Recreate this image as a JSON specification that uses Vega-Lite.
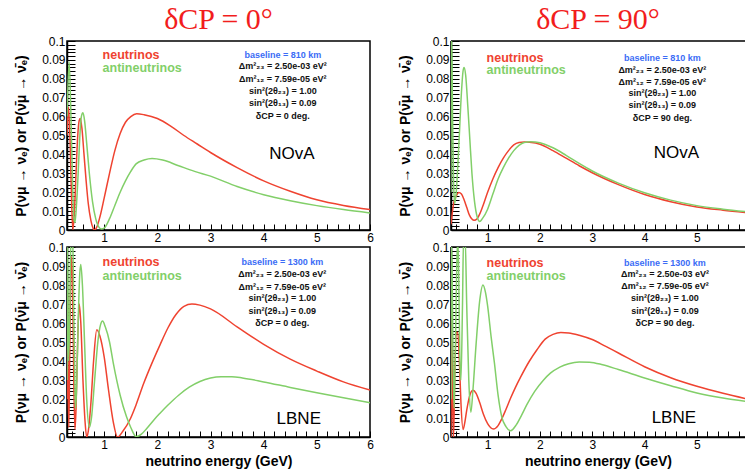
{
  "$schema": "https://vega.github.io/schema/vega-lite/v6.json",
  "padding": {"left": 13, "top": 4, "right": 0, "bottom": 0},
  "background": "white",
  "datasets": {
    "curves": [
      {"panel":"TL","beam":"neutrinos","E":0.30,"P":0.050},{"panel":"TL","beam":"neutrinos","E":0.33,"P":0.065},{"panel":"TL","beam":"neutrinos","E":0.36,"P":0.045},{"panel":"TL","beam":"neutrinos","E":0.39,"P":0.012},{"panel":"TL","beam":"neutrinos","E":0.41,"P":0.000},{"panel":"TL","beam":"neutrinos","E":0.44,"P":0.010},{"panel":"TL","beam":"neutrinos","E":0.47,"P":0.030},{"panel":"TL","beam":"neutrinos","E":0.50,"P":0.049},{"panel":"TL","beam":"neutrinos","E":0.53,"P":0.058},{"panel":"TL","beam":"neutrinos","E":0.55,"P":0.059},{"panel":"TL","beam":"neutrinos","E":0.58,"P":0.054},{"panel":"TL","beam":"neutrinos","E":0.62,"P":0.040},{"panel":"TL","beam":"neutrinos","E":0.66,"P":0.026},{"panel":"TL","beam":"neutrinos","E":0.70,"P":0.014},{"panel":"TL","beam":"neutrinos","E":0.75,"P":0.005},{"panel":"TL","beam":"neutrinos","E":0.79,"P":0.001},{"panel":"TL","beam":"neutrinos","E":0.82,"P":0.000},{"panel":"TL","beam":"neutrinos","E":0.86,"P":0.0015},{"panel":"TL","beam":"neutrinos","E":0.92,"P":0.007},{"panel":"TL","beam":"neutrinos","E":1.00,"P":0.017},{"panel":"TL","beam":"neutrinos","E":1.10,"P":0.030},{"panel":"TL","beam":"neutrinos","E":1.20,"P":0.042},{"panel":"TL","beam":"neutrinos","E":1.30,"P":0.051},{"panel":"TL","beam":"neutrinos","E":1.40,"P":0.057},{"panel":"TL","beam":"neutrinos","E":1.50,"P":0.060},{"panel":"TL","beam":"neutrinos","E":1.61,"P":0.0615},{"panel":"TL","beam":"neutrinos","E":1.75,"P":0.061},{"panel":"TL","beam":"neutrinos","E":2.00,"P":0.059},{"panel":"TL","beam":"neutrinos","E":2.25,"P":0.055},{"panel":"TL","beam":"neutrinos","E":2.50,"P":0.050},{"panel":"TL","beam":"neutrinos","E":2.75,"P":0.0455},{"panel":"TL","beam":"neutrinos","E":3.00,"P":0.041},{"panel":"TL","beam":"neutrinos","E":3.50,"P":0.033},{"panel":"TL","beam":"neutrinos","E":4.00,"P":0.026},{"panel":"TL","beam":"neutrinos","E":4.50,"P":0.0205},{"panel":"TL","beam":"neutrinos","E":5.00,"P":0.016},{"panel":"TL","beam":"neutrinos","E":5.50,"P":0.013},{"panel":"TL","beam":"neutrinos","E":6.00,"P":0.0108},
      {"panel":"TL","beam":"antineutrinos","E":0.30,"P":0.060},{"panel":"TL","beam":"antineutrinos","E":0.34,"P":0.089},{"panel":"TL","beam":"antineutrinos","E":0.37,"P":0.065},{"panel":"TL","beam":"antineutrinos","E":0.40,"P":0.030},{"panel":"TL","beam":"antineutrinos","E":0.43,"P":0.006},{"panel":"TL","beam":"antineutrinos","E":0.45,"P":0.004},{"panel":"TL","beam":"antineutrinos","E":0.48,"P":0.014},{"panel":"TL","beam":"antineutrinos","E":0.51,"P":0.030},{"panel":"TL","beam":"antineutrinos","E":0.54,"P":0.049},{"panel":"TL","beam":"antineutrinos","E":0.57,"P":0.060},{"panel":"TL","beam":"antineutrinos","E":0.60,"P":0.062},{"panel":"TL","beam":"antineutrinos","E":0.63,"P":0.058},{"panel":"TL","beam":"antineutrinos","E":0.67,"P":0.046},{"panel":"TL","beam":"antineutrinos","E":0.72,"P":0.030},{"panel":"TL","beam":"antineutrinos","E":0.78,"P":0.015},{"panel":"TL","beam":"antineutrinos","E":0.84,"P":0.006},{"panel":"TL","beam":"antineutrinos","E":0.90,"P":0.0015},{"panel":"TL","beam":"antineutrinos","E":0.95,"P":0.0005},{"panel":"TL","beam":"antineutrinos","E":1.00,"P":0.001},{"panel":"TL","beam":"antineutrinos","E":1.10,"P":0.006},{"panel":"TL","beam":"antineutrinos","E":1.20,"P":0.013},{"panel":"TL","beam":"antineutrinos","E":1.30,"P":0.020},{"panel":"TL","beam":"antineutrinos","E":1.40,"P":0.026},{"panel":"TL","beam":"antineutrinos","E":1.50,"P":0.031},{"panel":"TL","beam":"antineutrinos","E":1.60,"P":0.035},{"panel":"TL","beam":"antineutrinos","E":1.75,"P":0.037},{"panel":"TL","beam":"antineutrinos","E":1.90,"P":0.0378},{"panel":"TL","beam":"antineutrinos","E":2.10,"P":0.037},{"panel":"TL","beam":"antineutrinos","E":2.40,"P":0.034},{"panel":"TL","beam":"antineutrinos","E":2.70,"P":0.031},{"panel":"TL","beam":"antineutrinos","E":3.00,"P":0.0285},{"panel":"TL","beam":"antineutrinos","E":3.50,"P":0.023},{"panel":"TL","beam":"antineutrinos","E":4.00,"P":0.0187},{"panel":"TL","beam":"antineutrinos","E":4.50,"P":0.0155},{"panel":"TL","beam":"antineutrinos","E":5.00,"P":0.0129},{"panel":"TL","beam":"antineutrinos","E":5.50,"P":0.0108},{"panel":"TL","beam":"antineutrinos","E":6.00,"P":0.009},

      {"panel":"TR","beam":"neutrinos","E":0.30,"P":0.003},{"panel":"TR","beam":"neutrinos","E":0.32,"P":0.008},{"panel":"TR","beam":"neutrinos","E":0.35,"P":0.014},{"panel":"TR","beam":"neutrinos","E":0.40,"P":0.018},{"panel":"TR","beam":"neutrinos","E":0.45,"P":0.0198},{"panel":"TR","beam":"neutrinos","E":0.50,"P":0.019},{"panel":"TR","beam":"neutrinos","E":0.55,"P":0.016},{"panel":"TR","beam":"neutrinos","E":0.60,"P":0.012},{"panel":"TR","beam":"neutrinos","E":0.65,"P":0.008},{"panel":"TR","beam":"neutrinos","E":0.70,"P":0.0058},{"panel":"TR","beam":"neutrinos","E":0.74,"P":0.0051},{"panel":"TR","beam":"neutrinos","E":0.80,"P":0.006},{"panel":"TR","beam":"neutrinos","E":0.85,"P":0.0085},{"panel":"TR","beam":"neutrinos","E":0.90,"P":0.012},{"panel":"TR","beam":"neutrinos","E":1.00,"P":0.02},{"panel":"TR","beam":"neutrinos","E":1.10,"P":0.027},{"panel":"TR","beam":"neutrinos","E":1.20,"P":0.033},{"panel":"TR","beam":"neutrinos","E":1.30,"P":0.038},{"panel":"TR","beam":"neutrinos","E":1.40,"P":0.042},{"panel":"TR","beam":"neutrinos","E":1.50,"P":0.045},{"panel":"TR","beam":"neutrinos","E":1.60,"P":0.0463},{"panel":"TR","beam":"neutrinos","E":1.70,"P":0.0466},{"panel":"TR","beam":"neutrinos","E":1.80,"P":0.0464},{"panel":"TR","beam":"neutrinos","E":2.00,"P":0.0454},{"panel":"TR","beam":"neutrinos","E":2.25,"P":0.042},{"panel":"TR","beam":"neutrinos","E":2.50,"P":0.038},{"panel":"TR","beam":"neutrinos","E":2.75,"P":0.034},{"panel":"TR","beam":"neutrinos","E":3.00,"P":0.0303},{"panel":"TR","beam":"neutrinos","E":3.50,"P":0.024},{"panel":"TR","beam":"neutrinos","E":4.00,"P":0.0188},{"panel":"TR","beam":"neutrinos","E":4.50,"P":0.015},{"panel":"TR","beam":"neutrinos","E":5.00,"P":0.0122},{"panel":"TR","beam":"neutrinos","E":5.50,"P":0.0105},{"panel":"TR","beam":"neutrinos","E":6.00,"P":0.0091},
      {"panel":"TR","beam":"antineutrinos","E":0.30,"P":0.020},{"panel":"TR","beam":"antineutrinos","E":0.31,"P":0.105},{"panel":"TR","beam":"antineutrinos","E":0.33,"P":0.060},{"panel":"TR","beam":"antineutrinos","E":0.35,"P":0.025},{"panel":"TR","beam":"antineutrinos","E":0.37,"P":0.014},{"panel":"TR","beam":"antineutrinos","E":0.40,"P":0.020},{"panel":"TR","beam":"antineutrinos","E":0.45,"P":0.045},{"panel":"TR","beam":"antineutrinos","E":0.50,"P":0.073},{"panel":"TR","beam":"antineutrinos","E":0.53,"P":0.084},{"panel":"TR","beam":"antineutrinos","E":0.55,"P":0.086},{"panel":"TR","beam":"antineutrinos","E":0.58,"P":0.082},{"panel":"TR","beam":"antineutrinos","E":0.62,"P":0.066},{"panel":"TR","beam":"antineutrinos","E":0.66,"P":0.048},{"panel":"TR","beam":"antineutrinos","E":0.70,"P":0.030},{"panel":"TR","beam":"antineutrinos","E":0.75,"P":0.015},{"panel":"TR","beam":"antineutrinos","E":0.80,"P":0.007},{"panel":"TR","beam":"antineutrinos","E":0.85,"P":0.0045},{"panel":"TR","beam":"antineutrinos","E":0.90,"P":0.006},{"panel":"TR","beam":"antineutrinos","E":1.00,"P":0.011},{"panel":"TR","beam":"antineutrinos","E":1.10,"P":0.019},{"panel":"TR","beam":"antineutrinos","E":1.20,"P":0.027},{"panel":"TR","beam":"antineutrinos","E":1.30,"P":0.033},{"panel":"TR","beam":"antineutrinos","E":1.40,"P":0.038},{"panel":"TR","beam":"antineutrinos","E":1.50,"P":0.042},{"panel":"TR","beam":"antineutrinos","E":1.60,"P":0.0448},{"panel":"TR","beam":"antineutrinos","E":1.70,"P":0.0463},{"panel":"TR","beam":"antineutrinos","E":1.82,"P":0.0467},{"panel":"TR","beam":"antineutrinos","E":2.00,"P":0.0462},{"panel":"TR","beam":"antineutrinos","E":2.25,"P":0.0435},{"panel":"TR","beam":"antineutrinos","E":2.50,"P":0.0395},{"panel":"TR","beam":"antineutrinos","E":2.75,"P":0.0352},{"panel":"TR","beam":"antineutrinos","E":3.00,"P":0.0312},{"panel":"TR","beam":"antineutrinos","E":3.50,"P":0.0248},{"panel":"TR","beam":"antineutrinos","E":4.00,"P":0.0197},{"panel":"TR","beam":"antineutrinos","E":4.50,"P":0.0158},{"panel":"TR","beam":"antineutrinos","E":5.00,"P":0.0129},{"panel":"TR","beam":"antineutrinos","E":5.50,"P":0.011},{"panel":"TR","beam":"antineutrinos","E":6.00,"P":0.0095},

      {"panel":"BL","beam":"neutrinos","E":0.30,"P":0.020},{"panel":"BL","beam":"neutrinos","E":0.31,"P":0.075},{"panel":"BL","beam":"neutrinos","E":0.32,"P":0.030},{"panel":"BL","beam":"neutrinos","E":0.335,"P":0.005},{"panel":"BL","beam":"neutrinos","E":0.35,"P":0.040},{"panel":"BL","beam":"neutrinos","E":0.37,"P":0.085},{"panel":"BL","beam":"neutrinos","E":0.39,"P":0.095},{"panel":"BL","beam":"neutrinos","E":0.41,"P":0.070},{"panel":"BL","beam":"neutrinos","E":0.43,"P":0.025},{"panel":"BL","beam":"neutrinos","E":0.45,"P":0.004},{"panel":"BL","beam":"neutrinos","E":0.47,"P":0.015},{"panel":"BL","beam":"neutrinos","E":0.50,"P":0.050},{"panel":"BL","beam":"neutrinos","E":0.53,"P":0.070},{"panel":"BL","beam":"neutrinos","E":0.56,"P":0.060},{"panel":"BL","beam":"neutrinos","E":0.60,"P":0.030},{"panel":"BL","beam":"neutrinos","E":0.64,"P":0.008},{"panel":"BL","beam":"neutrinos","E":0.67,"P":0.000},{"panel":"BL","beam":"neutrinos","E":0.70,"P":0.003},{"panel":"BL","beam":"neutrinos","E":0.75,"P":0.018},{"panel":"BL","beam":"neutrinos","E":0.80,"P":0.040},{"panel":"BL","beam":"neutrinos","E":0.86,"P":0.0564},{"panel":"BL","beam":"neutrinos","E":0.92,"P":0.053},{"panel":"BL","beam":"neutrinos","E":1.00,"P":0.042},{"panel":"BL","beam":"neutrinos","E":1.08,"P":0.025},{"panel":"BL","beam":"neutrinos","E":1.17,"P":0.008},{"panel":"BL","beam":"neutrinos","E":1.25,"P":0.000},{"panel":"BL","beam":"neutrinos","E":1.35,"P":0.003},{"panel":"BL","beam":"neutrinos","E":1.49,"P":0.0095},{"panel":"BL","beam":"neutrinos","E":1.60,"P":0.017},{"panel":"BL","beam":"neutrinos","E":1.74,"P":0.028},{"panel":"BL","beam":"neutrinos","E":1.90,"P":0.039},{"panel":"BL","beam":"neutrinos","E":2.05,"P":0.0485},{"panel":"BL","beam":"neutrinos","E":2.20,"P":0.0575},{"panel":"BL","beam":"neutrinos","E":2.35,"P":0.0645},{"panel":"BL","beam":"neutrinos","E":2.50,"P":0.0688},{"panel":"BL","beam":"neutrinos","E":2.65,"P":0.0700},{"panel":"BL","beam":"neutrinos","E":2.80,"P":0.0694},{"panel":"BL","beam":"neutrinos","E":3.00,"P":0.0674},{"panel":"BL","beam":"neutrinos","E":3.50,"P":0.058},{"panel":"BL","beam":"neutrinos","E":4.00,"P":0.0488},{"panel":"BL","beam":"neutrinos","E":4.50,"P":0.041},{"panel":"BL","beam":"neutrinos","E":5.00,"P":0.0347},{"panel":"BL","beam":"neutrinos","E":5.50,"P":0.029},{"panel":"BL","beam":"neutrinos","E":6.00,"P":0.0247},
      {"panel":"BL","beam":"antineutrinos","E":0.30,"P":0.030},{"panel":"BL","beam":"antineutrinos","E":0.31,"P":0.100},{"panel":"BL","beam":"antineutrinos","E":0.33,"P":0.040},{"panel":"BL","beam":"antineutrinos","E":0.35,"P":0.060},{"panel":"BL","beam":"antineutrinos","E":0.37,"P":0.100},{"panel":"BL","beam":"antineutrinos","E":0.39,"P":0.105},{"panel":"BL","beam":"antineutrinos","E":0.41,"P":0.100},{"panel":"BL","beam":"antineutrinos","E":0.43,"P":0.060},{"panel":"BL","beam":"antineutrinos","E":0.45,"P":0.025},{"panel":"BL","beam":"antineutrinos","E":0.46,"P":0.015},{"panel":"BL","beam":"antineutrinos","E":0.48,"P":0.025},{"panel":"BL","beam":"antineutrinos","E":0.51,"P":0.060},{"panel":"BL","beam":"antineutrinos","E":0.54,"P":0.086},{"panel":"BL","beam":"antineutrinos","E":0.56,"P":0.0908},{"panel":"BL","beam":"antineutrinos","E":0.59,"P":0.080},{"panel":"BL","beam":"antineutrinos","E":0.63,"P":0.050},{"panel":"BL","beam":"antineutrinos","E":0.67,"P":0.020},{"panel":"BL","beam":"antineutrinos","E":0.72,"P":0.005},{"panel":"BL","beam":"antineutrinos","E":0.76,"P":0.010},{"panel":"BL","beam":"antineutrinos","E":0.82,"P":0.030},{"panel":"BL","beam":"antineutrinos","E":0.88,"P":0.050},{"panel":"BL","beam":"antineutrinos","E":0.93,"P":0.059},{"panel":"BL","beam":"antineutrinos","E":0.97,"P":0.061},{"panel":"BL","beam":"antineutrinos","E":1.02,"P":0.058},{"panel":"BL","beam":"antineutrinos","E":1.10,"P":0.050},{"panel":"BL","beam":"antineutrinos","E":1.17,"P":0.039},{"panel":"BL","beam":"antineutrinos","E":1.30,"P":0.022},{"panel":"BL","beam":"antineutrinos","E":1.42,"P":0.0106},{"panel":"BL","beam":"antineutrinos","E":1.50,"P":0.005},{"panel":"BL","beam":"antineutrinos","E":1.60,"P":0.0002},{"panel":"BL","beam":"antineutrinos","E":1.70,"P":0.0015},{"panel":"BL","beam":"antineutrinos","E":1.80,"P":0.0045},{"panel":"BL","beam":"antineutrinos","E":1.95,"P":0.0095},{"panel":"BL","beam":"antineutrinos","E":2.05,"P":0.0125},{"panel":"BL","beam":"antineutrinos","E":2.20,"P":0.0168},{"panel":"BL","beam":"antineutrinos","E":2.40,"P":0.0220},{"panel":"BL","beam":"antineutrinos","E":2.60,"P":0.0262},{"panel":"BL","beam":"antineutrinos","E":2.80,"P":0.0292},{"panel":"BL","beam":"antineutrinos","E":3.00,"P":0.0310},{"panel":"BL","beam":"antineutrinos","E":3.20,"P":0.0317},{"panel":"BL","beam":"antineutrinos","E":3.40,"P":0.0317},{"panel":"BL","beam":"antineutrinos","E":3.60,"P":0.0311},{"panel":"BL","beam":"antineutrinos","E":4.00,"P":0.0290},{"panel":"BL","beam":"antineutrinos","E":4.50,"P":0.0261},{"panel":"BL","beam":"antineutrinos","E":5.00,"P":0.0233},{"panel":"BL","beam":"antineutrinos","E":5.50,"P":0.0206},{"panel":"BL","beam":"antineutrinos","E":6.00,"P":0.018},

      {"panel":"BR","beam":"neutrinos","E":0.30,"P":0.000},{"panel":"BR","beam":"neutrinos","E":0.31,"P":0.070},{"panel":"BR","beam":"neutrinos","E":0.33,"P":0.020},{"panel":"BR","beam":"neutrinos","E":0.35,"P":0.000},{"panel":"BR","beam":"neutrinos","E":0.37,"P":0.030},{"panel":"BR","beam":"neutrinos","E":0.40,"P":0.055},{"panel":"BR","beam":"neutrinos","E":0.43,"P":0.055},{"panel":"BR","beam":"neutrinos","E":0.46,"P":0.040},{"panel":"BR","beam":"neutrinos","E":0.49,"P":0.018},{"panel":"BR","beam":"neutrinos","E":0.53,"P":0.004},{"panel":"BR","beam":"neutrinos","E":0.56,"P":0.007},{"panel":"BR","beam":"neutrinos","E":0.60,"P":0.014},{"panel":"BR","beam":"neutrinos","E":0.65,"P":0.021},{"panel":"BR","beam":"neutrinos","E":0.72,"P":0.0246},{"panel":"BR","beam":"neutrinos","E":0.78,"P":0.023},{"panel":"BR","beam":"neutrinos","E":0.85,"P":0.018},{"panel":"BR","beam":"neutrinos","E":0.92,"P":0.012},{"panel":"BR","beam":"neutrinos","E":1.00,"P":0.007},{"panel":"BR","beam":"neutrinos","E":1.11,"P":0.0042},{"panel":"BR","beam":"neutrinos","E":1.20,"P":0.0060},{"panel":"BR","beam":"neutrinos","E":1.27,"P":0.0095},{"panel":"BR","beam":"neutrinos","E":1.35,"P":0.0145},{"panel":"BR","beam":"neutrinos","E":1.44,"P":0.0205},{"panel":"BR","beam":"neutrinos","E":1.53,"P":0.026},{"panel":"BR","beam":"neutrinos","E":1.63,"P":0.0315},{"panel":"BR","beam":"neutrinos","E":1.80,"P":0.040},{"panel":"BR","beam":"neutrinos","E":1.94,"P":0.0458},{"panel":"BR","beam":"neutrinos","E":2.10,"P":0.0515},{"panel":"BR","beam":"neutrinos","E":2.25,"P":0.0540},{"panel":"BR","beam":"neutrinos","E":2.40,"P":0.0550},{"panel":"BR","beam":"neutrinos","E":2.55,"P":0.0548},{"panel":"BR","beam":"neutrinos","E":2.75,"P":0.0536},{"panel":"BR","beam":"neutrinos","E":3.00,"P":0.0513},{"panel":"BR","beam":"neutrinos","E":3.25,"P":0.0478},{"panel":"BR","beam":"neutrinos","E":3.50,"P":0.0442},{"panel":"BR","beam":"neutrinos","E":4.00,"P":0.0370},{"panel":"BR","beam":"neutrinos","E":4.50,"P":0.0312},{"panel":"BR","beam":"neutrinos","E":5.00,"P":0.0267},{"panel":"BR","beam":"neutrinos","E":5.50,"P":0.0230},{"panel":"BR","beam":"neutrinos","E":6.00,"P":0.0198},
      {"panel":"BR","beam":"antineutrinos","E":0.30,"P":0.020},{"panel":"BR","beam":"antineutrinos","E":0.305,"P":0.105},{"panel":"BR","beam":"antineutrinos","E":0.32,"P":0.090},{"panel":"BR","beam":"antineutrinos","E":0.34,"P":0.040},{"panel":"BR","beam":"antineutrinos","E":0.36,"P":0.015},{"panel":"BR","beam":"antineutrinos","E":0.38,"P":0.040},{"panel":"BR","beam":"antineutrinos","E":0.41,"P":0.090},{"panel":"BR","beam":"antineutrinos","E":0.43,"P":0.105},{"panel":"BR","beam":"antineutrinos","E":0.45,"P":0.080},{"panel":"BR","beam":"antineutrinos","E":0.47,"P":0.040},{"panel":"BR","beam":"antineutrinos","E":0.49,"P":0.030},{"panel":"BR","beam":"antineutrinos","E":0.52,"P":0.070},{"panel":"BR","beam":"antineutrinos","E":0.54,"P":0.105},{"panel":"BR","beam":"antineutrinos","E":0.57,"P":0.105},{"panel":"BR","beam":"antineutrinos","E":0.60,"P":0.070},{"panel":"BR","beam":"antineutrinos","E":0.64,"P":0.030},{"panel":"BR","beam":"antineutrinos","E":0.68,"P":0.013},{"panel":"BR","beam":"antineutrinos","E":0.72,"P":0.025},{"panel":"BR","beam":"antineutrinos","E":0.78,"P":0.049},{"panel":"BR","beam":"antineutrinos","E":0.85,"P":0.072},{"panel":"BR","beam":"antineutrinos","E":0.91,"P":0.080},{"panel":"BR","beam":"antineutrinos","E":0.96,"P":0.076},{"panel":"BR","beam":"antineutrinos","E":1.00,"P":0.069},{"panel":"BR","beam":"antineutrinos","E":1.07,"P":0.052},{"panel":"BR","beam":"antineutrinos","E":1.13,"P":0.039},{"panel":"BR","beam":"antineutrinos","E":1.20,"P":0.022},{"panel":"BR","beam":"antineutrinos","E":1.27,"P":0.0106},{"panel":"BR","beam":"antineutrinos","E":1.35,"P":0.0055},{"panel":"BR","beam":"antineutrinos","E":1.44,"P":0.0033},{"panel":"BR","beam":"antineutrinos","E":1.55,"P":0.0065},{"panel":"BR","beam":"antineutrinos","E":1.65,"P":0.0115},{"panel":"BR","beam":"antineutrinos","E":1.75,"P":0.0170},{"panel":"BR","beam":"antineutrinos","E":1.90,"P":0.0240},{"panel":"BR","beam":"antineutrinos","E":2.07,"P":0.0300},{"panel":"BR","beam":"antineutrinos","E":2.20,"P":0.0336},{"panel":"BR","beam":"antineutrinos","E":2.38,"P":0.0368},{"panel":"BR","beam":"antineutrinos","E":2.55,"P":0.0386},{"panel":"BR","beam":"antineutrinos","E":2.75,"P":0.0395},{"panel":"BR","beam":"antineutrinos","E":2.95,"P":0.0394},{"panel":"BR","beam":"antineutrinos","E":3.20,"P":0.0380},{"panel":"BR","beam":"antineutrinos","E":3.50,"P":0.0355},{"panel":"BR","beam":"antineutrinos","E":4.00,"P":0.0311},{"panel":"BR","beam":"antineutrinos","E":4.50,"P":0.0270},{"panel":"BR","beam":"antineutrinos","E":5.00,"P":0.0232},{"panel":"BR","beam":"antineutrinos","E":5.50,"P":0.0205},{"panel":"BR","beam":"antineutrinos","E":6.00,"P":0.0185}
    ],
    "notes": [
      {"panel":"TL","kind":"legend","beam":"neutrinos","label":"neutrinos","E":0.97,"P":0.0926},
      {"panel":"TL","kind":"legend","beam":"antineutrinos","label":"antineutrinos","E":0.97,"P":0.0857},
      {"panel":"TL","kind":"base","label":"baseline =  810 km","E":4.36,"P":0.0926},
      {"panel":"TL","kind":"param","label":"Δm²₂₃ = 2.50e-03 eV²","E":4.36,"P":0.0867},
      {"panel":"TL","kind":"param","label":"Δm²₁₂ = 7.59e-05 eV²","E":4.36,"P":0.0798},
      {"panel":"TL","kind":"param","label":"sin²(2θ₂₃) = 1.00","E":4.36,"P":0.0735},
      {"panel":"TL","kind":"param","label":"sin²(2θ₁₃) = 0.09","E":4.36,"P":0.0671},
      {"panel":"TL","kind":"param","label":"δCP =  0 deg.","E":4.36,"P":0.0602},
      {"panel":"TL","kind":"exp","label":"NOvA","E":4.53,"P":0.040},

      {"panel":"TR","kind":"legend","beam":"neutrinos","label":"neutrinos","E":0.98,"P":0.0911},
      {"panel":"TR","kind":"legend","beam":"antineutrinos","label":"antineutrinos","E":0.98,"P":0.0844},
      {"panel":"TR","kind":"base","label":"baseline =  810 km","E":4.34,"P":0.0911},
      {"panel":"TR","kind":"param","label":"Δm²₂₃ = 2.50e-03 eV²","E":4.34,"P":0.0849},
      {"panel":"TR","kind":"param","label":"Δm²₁₂ = 7.59e-05 eV²","E":4.34,"P":0.0785},
      {"panel":"TR","kind":"param","label":"sin²(2θ₂₃) = 1.00","E":4.34,"P":0.0725},
      {"panel":"TR","kind":"param","label":"sin²(2θ₁₃) = 0.09","E":4.34,"P":0.066},
      {"panel":"TR","kind":"param","label":"δCP =  90 deg.","E":4.34,"P":0.0592},
      {"panel":"TR","kind":"exp","label":"NOvA","E":4.61,"P":0.041},

      {"panel":"BL","kind":"legend","beam":"neutrinos","label":"neutrinos","E":0.97,"P":0.092},
      {"panel":"BL","kind":"legend","beam":"antineutrinos","label":"antineutrinos","E":0.97,"P":0.085},
      {"panel":"BL","kind":"base","label":"baseline = 1300 km","E":4.35,"P":0.092},
      {"panel":"BL","kind":"param","label":"Δm²₂₃ = 2.50e-03 eV²","E":4.35,"P":0.0859},
      {"panel":"BL","kind":"param","label":"Δm²₁₂ = 7.59e-05 eV²","E":4.35,"P":0.0792},
      {"panel":"BL","kind":"param","label":"sin²(2θ₂₃) = 1.00","E":4.35,"P":0.073},
      {"panel":"BL","kind":"param","label":"sin²(2θ₁₃) = 0.09","E":4.35,"P":0.0665},
      {"panel":"BL","kind":"param","label":"δCP =  0 deg.","E":4.35,"P":0.0598},
      {"panel":"BL","kind":"exp","label":"LBNE","E":4.66,"P":0.0095},

      {"panel":"BR","kind":"legend","beam":"neutrinos","label":"neutrinos","E":0.98,"P":0.0916},
      {"panel":"BR","kind":"legend","beam":"antineutrinos","label":"antineutrinos","E":0.98,"P":0.0847},
      {"panel":"BR","kind":"base","label":"baseline = 1300 km","E":4.39,"P":0.0916},
      {"panel":"BR","kind":"param","label":"Δm²₂₃ = 2.50e-03 eV²","E":4.39,"P":0.0859},
      {"panel":"BR","kind":"param","label":"Δm²₁₂ = 7.59e-05 eV²","E":4.39,"P":0.0794},
      {"panel":"BR","kind":"param","label":"sin²(2θ₂₃) = 1.00","E":4.39,"P":0.0729},
      {"panel":"BR","kind":"param","label":"sin²(2θ₁₃) = 0.09","E":4.39,"P":0.0663},
      {"panel":"BR","kind":"param","label":"δCP =  90 deg.","E":4.39,"P":0.0598},
      {"panel":"BR","kind":"exp","label":"LBNE","E":4.56,"P":0.0099}
    ]
  },
  "hconcat": [
    {
      "spacing": 17,
      "bounds": "flush",
      "vconcat": [
        {
          "width": 303, "height": 189,
          "title": {"text": "δCP = 0°", "font": "Liberation Serif", "fontSize": 30, "fontWeight": "normal", "color": "#f21d1d", "frame": "group", "anchor": "middle", "offset": 0},
          "encoding": {
            "x": {"field": "E", "type": "quantitative", "scale": {"domain": [0.3, 6], "nice": false, "zero": false},
                  "axis": {"title": null, "values": [0.4,0.6,0.8,1,1.2,1.4,1.6,1.8,2,2.2,2.4,2.6,2.8,3,3.2,3.4,3.6,3.8,4,4.2,4.4,4.6,4.8,5,5.2,5.4,5.6,5.8,6],
                           "labelExpr": "abs(datum.value - round(datum.value)) < 0.001 ? format(datum.value, 'd') : ''",
                           "tickSize": -6,
                           "encode": {"ticks": {"update": {"y2": {"signal": "abs(datum.value - round(datum.value)) < 0.001 ? -6 : -3"}}}}}},
            "y": {"field": "P", "type": "quantitative", "scale": {"domain": [0, 0.1], "nice": false},
                  "axis": {"title": "P(νμ → νₑ) or P(ν̄μ → ν̄ₑ)", "values": [0,0.002,0.004,0.006,0.008,0.01,0.012,0.014,0.016,0.018,0.02,0.022,0.024,0.026,0.028,0.03,0.032,0.034,0.036,0.038,0.04,0.042,0.044,0.046,0.048,0.05,0.052,0.054,0.056,0.058,0.06,0.062,0.064,0.066,0.068,0.07,0.072,0.074,0.076,0.078,0.08,0.082,0.084,0.086,0.088,0.09,0.092,0.094,0.096,0.098,0.1],
                           "labelExpr": "abs(datum.value*100 - round(datum.value*100)) < 0.001 ? format(datum.value, '~g') : ''",
                           "tickSize": -8,
                           "encode": {"ticks": {"update": {"x2": {"signal": "abs(datum.value*100 - round(datum.value*100)) < 0.001 ? 8 : 4"}}}}}},
            "color": {"field": "beam", "type": "nominal", "scale": {"domain": ["neutrinos", "antineutrinos"], "range": ["#ef4330", "#82cf69"]}, "legend": null}
          },
          "layer": [
            {"data": {"name": "curves"}, "transform": [{"filter": "datum.panel === 'TL'"}],
             "mark": {"type": "line", "clip": true, "strokeWidth": 1.5, "interpolate": "monotone"}},
            {"data": {"name": "notes"}, "transform": [{"filter": "datum.panel === 'TL' && datum.kind === 'legend'"}],
             "mark": {"type": "text", "align": "left", "baseline": "middle", "fontWeight": "bold", "fontSize": 12.5},
             "encoding": {"text": {"field": "label"}, "color": {"condition": {"test": "datum.beam === 'neutrinos'", "value": "#ef4330"}, "value": "#82cf69"}}},
            {"data": {"name": "notes"}, "transform": [{"filter": "datum.panel === 'TL' && (datum.kind === 'param' || datum.kind === 'base')"}],
             "mark": {"type": "text", "align": "center", "baseline": "middle", "fontWeight": "bold", "fontSize": 9},
             "encoding": {"text": {"field": "label"}, "color": {"condition": {"test": "datum.kind === 'base'", "value": "#3b6cf6"}, "value": "#111111"}}},
            {"data": {"name": "notes"}, "transform": [{"filter": "datum.panel === 'TL' && datum.kind === 'exp'"}],
             "mark": {"type": "text", "align": "center", "baseline": "middle", "fontSize": 17},
             "encoding": {"text": {"field": "label"}, "color": {"value": "black"}}}
          ]
        },
        {
          "width": 303, "height": 190,
          "encoding": {
            "x": {"field": "E", "type": "quantitative", "scale": {"domain": [0.3, 6], "nice": false, "zero": false},
                  "axis": {"title": "neutrino energy (GeV)", "values": [0.4,0.6,0.8,1,1.2,1.4,1.6,1.8,2,2.2,2.4,2.6,2.8,3,3.2,3.4,3.6,3.8,4,4.2,4.4,4.6,4.8,5,5.2,5.4,5.6,5.8,6],
                           "labelExpr": "abs(datum.value - round(datum.value)) < 0.001 ? format(datum.value, 'd') : ''",
                           "tickSize": -6,
                           "encode": {"ticks": {"update": {"y2": {"signal": "abs(datum.value - round(datum.value)) < 0.001 ? -6 : -3"}}}}}},
            "y": {"field": "P", "type": "quantitative", "scale": {"domain": [0, 0.1], "nice": false},
                  "axis": {"title": "P(νμ → νₑ) or P(ν̄μ → ν̄ₑ)", "values": [0,0.002,0.004,0.006,0.008,0.01,0.012,0.014,0.016,0.018,0.02,0.022,0.024,0.026,0.028,0.03,0.032,0.034,0.036,0.038,0.04,0.042,0.044,0.046,0.048,0.05,0.052,0.054,0.056,0.058,0.06,0.062,0.064,0.066,0.068,0.07,0.072,0.074,0.076,0.078,0.08,0.082,0.084,0.086,0.088,0.09,0.092,0.094,0.096,0.098,0.1],
                           "labelExpr": "abs(datum.value*100 - round(datum.value*100)) < 0.001 ? format(datum.value, '~g') : ''",
                           "tickSize": -8,
                           "encode": {"ticks": {"update": {"x2": {"signal": "abs(datum.value*100 - round(datum.value*100)) < 0.001 ? 8 : 4"}}}}}},
            "color": {"field": "beam", "type": "nominal", "scale": {"domain": ["neutrinos", "antineutrinos"], "range": ["#ef4330", "#82cf69"]}, "legend": null}
          },
          "layer": [
            {"data": {"name": "curves"}, "transform": [{"filter": "datum.panel === 'BL'"}],
             "mark": {"type": "line", "clip": true, "strokeWidth": 1.5, "interpolate": "monotone"}},
            {"data": {"name": "notes"}, "transform": [{"filter": "datum.panel === 'BL' && datum.kind === 'legend'"}],
             "mark": {"type": "text", "align": "left", "baseline": "middle", "fontWeight": "bold", "fontSize": 12.5},
             "encoding": {"text": {"field": "label"}, "color": {"condition": {"test": "datum.beam === 'neutrinos'", "value": "#ef4330"}, "value": "#82cf69"}}},
            {"data": {"name": "notes"}, "transform": [{"filter": "datum.panel === 'BL' && (datum.kind === 'param' || datum.kind === 'base')"}],
             "mark": {"type": "text", "align": "center", "baseline": "middle", "fontWeight": "bold", "fontSize": 9},
             "encoding": {"text": {"field": "label"}, "color": {"condition": {"test": "datum.kind === 'base'", "value": "#3b6cf6"}, "value": "#111111"}}},
            {"data": {"name": "notes"}, "transform": [{"filter": "datum.panel === 'BL' && datum.kind === 'exp'"}],
             "mark": {"type": "text", "align": "center", "baseline": "middle", "fontSize": 17},
             "encoding": {"text": {"field": "label"}, "color": {"value": "black"}}}
          ]
        }
      ]
    },
    {
      "spacing": 17,
      "bounds": "flush",
      "vconcat": [
        {
          "width": 294, "height": 189,
          "view": {"stroke": "black", "strokeWidth": 1.5, "strokeDash": [294, 189, 483, 0]},
          "title": {"text": "δCP = 90°", "font": "Liberation Serif", "fontSize": 30, "fontWeight": "normal", "color": "#f21d1d", "frame": "group", "anchor": "middle", "offset": 0},
          "encoding": {
            "x": {"field": "E", "type": "quantitative", "scale": {"domain": [0.3, 5.92], "nice": false, "zero": false},
                  "axis": {"title": null, "values": [0.4,0.6,0.8,1,1.2,1.4,1.6,1.8,2,2.2,2.4,2.6,2.8,3,3.2,3.4,3.6,3.8,4,4.2,4.4,4.6,4.8,5,5.2,5.4,5.6,5.8],
                           "labelExpr": "abs(datum.value - round(datum.value)) < 0.001 ? format(datum.value, 'd') : ''",
                           "tickSize": -6,
                           "encode": {"ticks": {"update": {"y2": {"signal": "abs(datum.value - round(datum.value)) < 0.001 ? -6 : -3"}}}}}},
            "y": {"field": "P", "type": "quantitative", "scale": {"domain": [0, 0.1], "nice": false},
                  "axis": {"title": "P(νμ → νₑ) or P(ν̄μ → ν̄ₑ)", "values": [0,0.002,0.004,0.006,0.008,0.01,0.012,0.014,0.016,0.018,0.02,0.022,0.024,0.026,0.028,0.03,0.032,0.034,0.036,0.038,0.04,0.042,0.044,0.046,0.048,0.05,0.052,0.054,0.056,0.058,0.06,0.062,0.064,0.066,0.068,0.07,0.072,0.074,0.076,0.078,0.08,0.082,0.084,0.086,0.088,0.09,0.092,0.094,0.096,0.098,0.1],
                           "labelExpr": "abs(datum.value*100 - round(datum.value*100)) < 0.001 ? format(datum.value, '~g') : ''",
                           "tickSize": -8,
                           "encode": {"ticks": {"update": {"x2": {"signal": "abs(datum.value*100 - round(datum.value*100)) < 0.001 ? 8 : 4"}}}}}},
            "color": {"field": "beam", "type": "nominal", "scale": {"domain": ["neutrinos", "antineutrinos"], "range": ["#ef4330", "#82cf69"]}, "legend": null}
          },
          "layer": [
            {"data": {"name": "curves"}, "transform": [{"filter": "datum.panel === 'TR'"}],
             "mark": {"type": "line", "clip": true, "strokeWidth": 1.5, "interpolate": "monotone"}},
            {"data": {"name": "notes"}, "transform": [{"filter": "datum.panel === 'TR' && datum.kind === 'legend'"}],
             "mark": {"type": "text", "align": "left", "baseline": "middle", "fontWeight": "bold", "fontSize": 12.5},
             "encoding": {"text": {"field": "label"}, "color": {"condition": {"test": "datum.beam === 'neutrinos'", "value": "#ef4330"}, "value": "#82cf69"}}},
            {"data": {"name": "notes"}, "transform": [{"filter": "datum.panel === 'TR' && (datum.kind === 'param' || datum.kind === 'base')"}],
             "mark": {"type": "text", "align": "center", "baseline": "middle", "fontWeight": "bold", "fontSize": 9},
             "encoding": {"text": {"field": "label"}, "color": {"condition": {"test": "datum.kind === 'base'", "value": "#3b6cf6"}, "value": "#111111"}}},
            {"data": {"name": "notes"}, "transform": [{"filter": "datum.panel === 'TR' && datum.kind === 'exp'"}],
             "mark": {"type": "text", "align": "center", "baseline": "middle", "fontSize": 17},
             "encoding": {"text": {"field": "label"}, "color": {"value": "black"}}}
          ]
        },
        {
          "width": 294, "height": 190,
          "view": {"stroke": "black", "strokeWidth": 1.5, "strokeDash": [294, 190, 484, 0]},
          "encoding": {
            "x": {"field": "E", "type": "quantitative", "scale": {"domain": [0.3, 5.92], "nice": false, "zero": false},
                  "axis": {"title": "neutrino energy (GeV)", "values": [0.4,0.6,0.8,1,1.2,1.4,1.6,1.8,2,2.2,2.4,2.6,2.8,3,3.2,3.4,3.6,3.8,4,4.2,4.4,4.6,4.8,5,5.2,5.4,5.6,5.8],
                           "labelExpr": "abs(datum.value - round(datum.value)) < 0.001 ? format(datum.value, 'd') : ''",
                           "tickSize": -6,
                           "encode": {"ticks": {"update": {"y2": {"signal": "abs(datum.value - round(datum.value)) < 0.001 ? -6 : -3"}}}}}},
            "y": {"field": "P", "type": "quantitative", "scale": {"domain": [0, 0.1], "nice": false},
                  "axis": {"title": "P(νμ → νₑ) or P(ν̄μ → ν̄ₑ)", "values": [0,0.002,0.004,0.006,0.008,0.01,0.012,0.014,0.016,0.018,0.02,0.022,0.024,0.026,0.028,0.03,0.032,0.034,0.036,0.038,0.04,0.042,0.044,0.046,0.048,0.05,0.052,0.054,0.056,0.058,0.06,0.062,0.064,0.066,0.068,0.07,0.072,0.074,0.076,0.078,0.08,0.082,0.084,0.086,0.088,0.09,0.092,0.094,0.096,0.098,0.1],
                           "labelExpr": "abs(datum.value*100 - round(datum.value*100)) < 0.001 ? format(datum.value, '~g') : ''",
                           "tickSize": -8,
                           "encode": {"ticks": {"update": {"x2": {"signal": "abs(datum.value*100 - round(datum.value*100)) < 0.001 ? 8 : 4"}}}}}},
            "color": {"field": "beam", "type": "nominal", "scale": {"domain": ["neutrinos", "antineutrinos"], "range": ["#ef4330", "#82cf69"]}, "legend": null}
          },
          "layer": [
            {"data": {"name": "curves"}, "transform": [{"filter": "datum.panel === 'BR'"}],
             "mark": {"type": "line", "clip": true, "strokeWidth": 1.5, "interpolate": "monotone"}},
            {"data": {"name": "notes"}, "transform": [{"filter": "datum.panel === 'BR' && datum.kind === 'legend'"}],
             "mark": {"type": "text", "align": "left", "baseline": "middle", "fontWeight": "bold", "fontSize": 12.5},
             "encoding": {"text": {"field": "label"}, "color": {"condition": {"test": "datum.beam === 'neutrinos'", "value": "#ef4330"}, "value": "#82cf69"}}},
            {"data": {"name": "notes"}, "transform": [{"filter": "datum.panel === 'BR' && (datum.kind === 'param' || datum.kind === 'base')"}],
             "mark": {"type": "text", "align": "center", "baseline": "middle", "fontWeight": "bold", "fontSize": 9},
             "encoding": {"text": {"field": "label"}, "color": {"condition": {"test": "datum.kind === 'base'", "value": "#3b6cf6"}, "value": "#111111"}}},
            {"data": {"name": "notes"}, "transform": [{"filter": "datum.panel === 'BR' && datum.kind === 'exp'"}],
             "mark": {"type": "text", "align": "center", "baseline": "middle", "fontSize": 17},
             "encoding": {"text": {"field": "label"}, "color": {"value": "black"}}}
          ]
        }
      ]
    }
  ],
  "spacing": 22,
  "config": {
    "font": "Liberation Sans",
    "view": {"stroke": "black", "strokeWidth": 1.5},
    "axis": {
      "grid": false,
      "labelFont": "Liberation Sans", "labelFontSize": 12, "labelColor": "black", "labelPadding": 10, "labelOverlap": false, "labelFlush": false,
      "domainColor": "black", "domainWidth": 1.5, "tickColor": "black", "tickWidth": 1,
      "titleFont": "Liberation Sans", "titleFontSize": 14, "titleFontWeight": "bold", "titleColor": "black", "titlePadding": 13
    },
    "axisX": {"labelPadding": 8, "titlePadding": 4}
  }
}
